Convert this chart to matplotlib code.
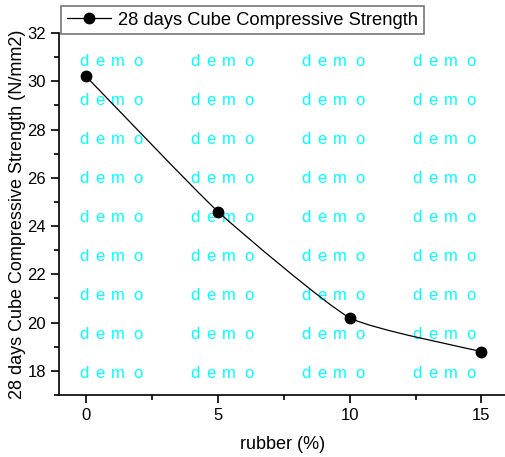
import numpy as np
import matplotlib
matplotlib.use('Agg')
import matplotlib.pyplot as plt
from matplotlib.path import Path
from matplotlib.patches import PathPatch
from matplotlib.ticker import MultipleLocator

plt.rcParams['font.family'] = ['Liberation Sans', 'DejaVu Sans']

# data
rubber = [0, 5, 10, 15]
strength = [30.2, 24.6, 20.2, 18.8]
series_label = '28 days Cube Compressive Strength'
xlabel = 'rubber (%)'
ylabel = '28 days Cube Compressive Strength (N/mm2)'

fig = plt.figure(figsize=(5.06, 4.57), dpi=100)
ax = fig.add_axes([0.1166, 0.1357, 0.8834, 0.7921])

# gently smoothed connecting line (bezier through the points)
x = np.array(rubber, float)
y = np.array(strength, float)
k = 1 / 12
verts = [(x[0], y[0])]
codes = [Path.MOVETO]
for i in range(len(x) - 1):
    p0 = (x[i - 1], y[i - 1]) if i > 0 else (x[i], y[i])
    p3 = (x[i + 2], y[i + 2]) if i + 2 < len(x) else (x[i + 1], y[i + 1])
    c1 = (x[i] + (x[i + 1] - p0[0]) * k, y[i] + (y[i + 1] - p0[1]) * k)
    c2 = (x[i + 1] - (p3[0] - x[i]) * k, y[i + 1] - (p3[1] - y[i]) * k)
    verts += [c1, c2, (x[i + 1], y[i + 1])]
    codes += [Path.CURVE4] * 3
ax.add_patch(PathPatch(Path(verts, codes), facecolor='none', edgecolor='black', lw=0.9, zorder=3))
ax.plot(rubber, strength, 'o', color='black', ms=7.5, zorder=4)
h, = ax.plot([], [], '-o', color='black', ms=7.5, lw=0.9)

# watermark, letters spaced out
letters = ['d', 'e', 'm', 'o']
offs = [0, 0.0358, 0.0716, 0.121]
for xc in [0.045, 0.293, 0.541, 0.79]:
    for r in range(9):
        for ch, dx in zip(letters, offs):
            ax.text(xc + dx, 0.92 - r * 0.1077, ch, color='cyan', fontsize=12,
                    transform=ax.transAxes, va='center', ha='left', zorder=1)

ax.set_xlim(-1.03, 15.93)
ax.set_ylim(17, 32)
ax.xaxis.set_major_locator(MultipleLocator(5))
ax.xaxis.set_minor_locator(MultipleLocator(2.5))
ax.yaxis.set_major_locator(MultipleLocator(2))
ax.yaxis.set_minor_locator(MultipleLocator(1))
ax.spines['top'].set_visible(False)
ax.spines['right'].set_visible(False)
ax.spines['left'].set_linewidth(1.2)
ax.spines['bottom'].set_linewidth(1.2)
ax.tick_params(which='major', direction='out', length=6, width=1.2, labelsize=12)
ax.tick_params(which='minor', direction='out', length=3.5, width=1.2)
ax.set_xlabel(xlabel, fontsize=13, labelpad=9)
ax.set_ylabel(ylabel, fontsize=13, labelpad=1)

leg = ax.legend([h], [series_label], loc='lower left', bbox_to_anchor=(0.005, 0.997),
                fontsize=13.2, frameon=True, fancybox=False, edgecolor='#555555',
                borderpad=0.3, handlelength=2.4, handletextpad=0.4, borderaxespad=0)
leg.get_frame().set_linewidth(1.2)

fig.savefig('out.png', dpi=100)
